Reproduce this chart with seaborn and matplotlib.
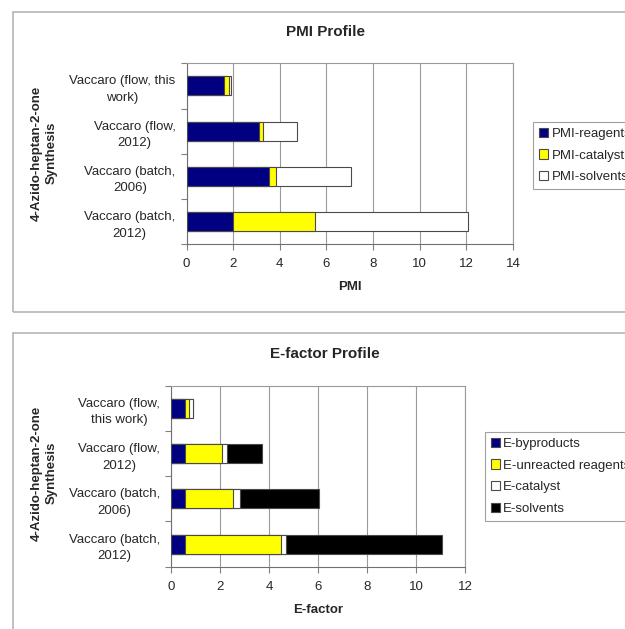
import matplotlib
matplotlib.use("Agg")
import matplotlib.pyplot as plt
from matplotlib.patches import Patch, Rectangle
import numpy as np
import pandas as pd
import seaborn as sns

sns.set_style("white")
plt.rcParams.update({
    "font.family": ["Liberation Sans", "DejaVu Sans"],
    "font.size": 9.5,
})

categories = [
    "Vaccaro (flow, this\nwork)",
    "Vaccaro (flow,\n2012)",
    "Vaccaro (batch,\n2006)",
    "Vaccaro (batch,\n2012)",
]
categories_e = [
    "Vaccaro (flow,\nthis work)",
    "Vaccaro (flow,\n2012)",
    "Vaccaro (batch,\n2006)",
    "Vaccaro (batch,\n2012)",
]

pmi_series = ["PMI-reagents", "PMI-catalyst", "PMI-solvents"]
pmi_reagents = [1.61, 3.09, 3.55, 1.99]
pmi_catalyst = [0.21, 0.20, 0.27, 3.53]
pmi_solvents = [0.08, 1.44, 3.24, 6.54]

e_series = ["E-byproducts", "E-unreacted reagents", "E-catalyst", "E-solvents"]
e_byproducts = [0.57, 0.57, 0.57, 0.57]
e_unreacted = [0.18, 1.51, 1.97, 3.92]
e_catalyst = [0.16, 0.19, 0.28, 0.20]
e_solvents = [0.00, 1.46, 3.23, 6.38]

NAVY = "#000080"
YELLOW = "#FFFF00"
EDGE = "#4a4a4a"
GRID = "#9a9a9a"

W, H = 625, 629


def stacked(ax, cats, names, values, colors, xmax):
    df = pd.DataFrame({"cat": cats})
    cum = np.cumsum(np.array(values), axis=0)
    for name, row in zip(names, cum):
        df[name] = row
    # draw the longest cumulative first so later segments sit on top
    for name, color in reversed(list(zip(names, colors))):
        sns.barplot(data=df, x=name, y="cat", orient="h", color=color,
                    width=0.42, edgecolor=EDGE, linewidth=0.8,
                    saturation=1, ax=ax, zorder=3)
    ax.set_xlim(0, xmax)
    ax.set_xticks(np.arange(0, xmax + 1, 2))
    ax.grid(axis="x", color=GRID, linewidth=0.8, zorder=0)
    ax.set_axisbelow(True)
    ax.set_ylim(3.5, -0.5)
    ax.set_yticks([0, 1, 2, 3])
    ax.set_yticklabels(cats, multialignment="center", linespacing=1.5)
    ax.set_yticks([-0.5, 0.5, 1.5, 2.5, 3.5], minor=True)
    ax.tick_params(axis="y", which="major", length=0, pad=8)
    ax.tick_params(axis="y", which="minor", length=4, color="#808080", width=0.8, left=True)
    ax.tick_params(axis="x", length=4, color="#808080", width=0.8, bottom=True, pad=6)
    for s in ax.spines.values():
        s.set_visible(True)
        s.set_color(GRID)
        s.set_linewidth(0.8)
    ax.spines["bottom"].set_color("#707070")
    ax.spines["left"].set_color("#707070")
    ax.set_ylabel("")


fig = plt.figure(figsize=(W / 100, H / 100), dpi=100)

# panel borders
for y0, y1 in [(11.7, 311.7), (333, 660)]:
    fig.patches.append(Rectangle((12.5 / W, 1 - y1 / H), 1.0, (y1 - y0) / H,
                                 transform=fig.transFigure, fill=False,
                                 edgecolor="#b5b5b5", linewidth=1.2))

ax1 = fig.add_axes([186.5 / W, 1 - 244.3 / H, 326.5 / W, 181 / H])
stacked(ax1, categories, pmi_series,
        [pmi_reagents, pmi_catalyst, pmi_solvents],
        [NAVY, YELLOW, "white"], 14)
ax1.set_xlabel("PMI", fontweight="bold", labelpad=8)

ax2 = fig.add_axes([171 / W, 1 - 566.7 / H, 294 / W, 181 / H])
stacked(ax2, categories_e, e_series,
        [e_byproducts, e_unreacted, e_catalyst, e_solvents],
        [NAVY, YELLOW, "white", "black"], 12)
ax2.set_xlabel("E-factor", fontweight="bold", labelpad=8)

fig.text(325 / W, 1 - 32.3 / H, "PMI Profile", ha="center", va="center",
         fontsize=11, fontweight="bold")
fig.text(325 / W, 1 - 354.3 / H, "E-factor Profile", ha="center", va="center",
         fontsize=11, fontweight="bold")

for yc in [153, 473]:
    fig.text(44 / W, 1 - yc / H, "4-Azido-heptan-2-one\nSynthesis", rotation=90,
             ha="center", va="center", fontweight="bold", multialignment="center",
             linespacing=1.3)


def legend(ax, names, colors, x, y):
    handles = [Patch(facecolor=c, edgecolor=EDGE, linewidth=0.8) for c in colors]
    leg = fig.legend(handles, names, loc="upper left", bbox_to_anchor=(x / W, 1 - y / H),
                     bbox_transform=fig.transFigure, fancybox=False, framealpha=1,
                     handlelength=0.7, handleheight=0.7, handletextpad=0.25,
                     labelspacing=0.72, borderpad=0.45, borderaxespad=0,
                     fontsize=9.5)
    leg.get_frame().set_edgecolor("#a0a0a0")
    leg.get_frame().set_linewidth(0.8)


legend(ax1, pmi_series, [NAVY, YELLOW, "white"], 533, 121.7)
legend(ax2, e_series, [NAVY, YELLOW, "white", "black"], 484.6, 431.7)

fig.savefig("out.png", dpi=100)
